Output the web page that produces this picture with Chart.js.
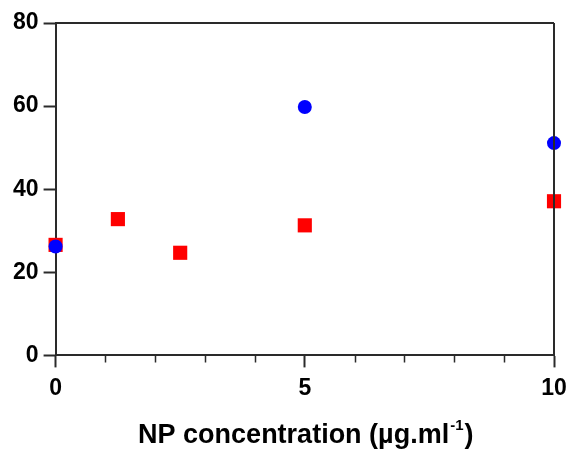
<!DOCTYPE html>
<html><head><meta charset="utf-8">
<script src="https://cdn.jsdelivr.net/npm/chart.js@4.4.1/dist/chart.umd.min.js"></script>
<style>html,body{margin:0;padding:0;background:#fff}#wrap{width:570px;height:451px}</style>
</head><body><div id="wrap"><canvas id="c"></canvas></div>
<script>
const blueX = [0, 5, 10];
const blueY = [26.2, 59.8, 51.1];
const redX = [0, 1.25, 2.5, 5, 10];
const redY = [26.6, 32.8, 24.7, 31.3, 37.1];
const xTicks = [0, 5, 10];
const yTicks = [0, 20, 40, 60, 80];
const xTitleMain = 'NP concentration (µg.ml';
const xTitleSup = '-1';
const xTitleEnd = ')';

const AX = '#2a2a2a';
const FONT = "'Liberation Sans', Arial, sans-serif";

const frame = {
  id: 'frame',
  afterDraw(chart) {
    const {ctx, chartArea: a, scales: {x}} = chart;
    ctx.save();
    ctx.strokeStyle = AX; ctx.lineWidth = 2;
    ctx.beginPath();
    ctx.moveTo(a.left, a.top); ctx.lineTo(a.right, a.top);
    ctx.moveTo(a.right, a.top); ctx.lineTo(a.right, a.bottom);
    ctx.stroke();
    // minor ticks
    ctx.lineWidth = 1.5;
    ctx.beginPath();
    for (let v = x.min; v <= x.max; v += 1) {
      if (xTicks.includes(v)) continue;
      const px = Math.round(x.getPixelForValue(v)) + 0.5;
      ctx.moveTo(px, a.bottom); ctx.lineTo(px, a.bottom + 7);
    }
    ctx.stroke();
    // axis title with superscript
    ctx.fillStyle = '#000';
    ctx.textBaseline = 'alphabetic';
    const big = 'bold 27px ' + FONT, small = 'bold 15px ' + FONT;
    ctx.font = big; const w1 = ctx.measureText(xTitleMain).width; const w3 = ctx.measureText(xTitleEnd).width;
    ctx.font = small; const w2 = ctx.measureText(xTitleSup).width;
    const total = w1 + w2 + w3;
    const cx = (a.left + a.right) / 2;
    let sx = cx - total / 2;
    const base = chart.height - 8;
    ctx.font = big; ctx.textAlign = 'left';
    ctx.fillText(xTitleMain, sx, base);
    ctx.font = small; ctx.fillText(xTitleSup, sx + w1 + 1, base - 13);
    ctx.font = big; ctx.fillText(xTitleEnd, sx + w1 + w2 + 2, base);
    ctx.restore();
  }
};

new Chart(document.getElementById('c'), {
  type: 'scatter',
  data: {
    datasets: [
      { label: 'blue', data: blueX.map((v, i) => ({x: v, y: blueY[i]})),
        pointStyle: 'circle', pointRadius: 7, pointHoverRadius: 7,
        backgroundColor: '#0000ff', borderWidth: 0, clip: false },
      { label: 'red', data: redX.map((v, i) => ({x: v, y: redY[i]})),
        pointStyle: 'rect', pointRadius: 10, pointHoverRadius: 10,
        backgroundColor: '#ff0000', borderWidth: 0, clip: false }
    ]
  },
  options: {
    responsive: true, maintainAspectRatio: false, animation: false,
    layout: { padding: { left: 8, right: 16, top: 23, bottom: 42 } },
    plugins: { legend: { display: false }, tooltip: { enabled: false } },
    scales: {
      x: {
        type: 'linear', min: 0, max: 10,
        afterBuildTicks(s) { s.ticks = [0,1,2,3,4,5,6,7,8,9,10].map(v => ({value: v})); },
        afterFit(s) { s.paddingRight = 0; s.paddingLeft = 0; },
        border: { display: true, color: AX, width: 2 },
        grid: { drawOnChartArea: false, drawTicks: true, tickLength: 12,
          tickColor: c => xTicks.includes(c.tick.value) ? AX : 'transparent', tickWidth: 2 },
        ticks: { autoSkip: false, maxRotation: 0, color: '#000', padding: 7,
          font: { family: FONT, size: 23, weight: 'bold' },
          callback: v => xTicks.includes(v) ? String(v) : '' }
      },
      y: {
        min: 0, max: 80,
        afterBuildTicks(s) { s.ticks = yTicks.map(v => ({value: v})); },
        border: { display: true, color: AX, width: 2 },
        grid: { drawOnChartArea: false, drawTicks: true, tickLength: 12, tickColor: AX, tickWidth: 2 },
        ticks: { color: '#000', padding: 5, font: { family: FONT, size: 23, weight: 'bold' } }
      }
    }
  },
  plugins: [frame]
});
</script></body></html>
